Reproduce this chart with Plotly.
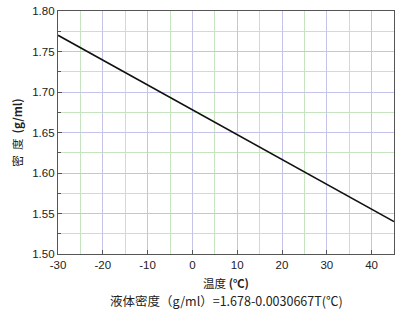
import plotly.graph_objects as go

temperature = [-30, 45]
density = [1.770, 1.540]
x_ticks = [-30, -20, -10, 0, 10, 20, 30, 40]
y_ticks = [1.50, 1.55, 1.60, 1.65, 1.70, 1.75, 1.80]

fig = go.Figure()
fig.add_trace(go.Scatter(x=temperature, y=density, mode="lines",
                         line=dict(color="#111111", width=1.6), showlegend=False))

font = dict(family="Liberation Sans", size=11.5, color="#222222")
fig.update_layout(
    width=400, height=310,
    margin=dict(l=58, r=5, t=9, b=56),
    paper_bgcolor="white", plot_bgcolor="white",
    font=font,
    xaxis=dict(range=[-30, 45], tickvals=x_ticks, ticktext=[str(v) for v in x_ticks],
               showgrid=True, gridcolor="#c4c4ea", gridwidth=1.2,
               minor=dict(dtick=5, tick0=-25, showgrid=True, gridcolor="#c6e4bf", gridwidth=1.2),
               showline=True, linecolor="#555555", mirror=True, linewidth=1.2,
               ticks="inside", ticklen=4, tickcolor="#555555", zeroline=False,
               title=dict(text="温度 <b>(℃)</b>", font=dict(family="Noto Sans CJK SC", size=11.5), standoff=10)),
    yaxis=dict(range=[1.50, 1.80], tickvals=y_ticks, ticktext=[f"{v:.2f}" for v in y_ticks],
               showgrid=True, gridcolor="#c4c4ea", gridwidth=1.2,
               minor=dict(dtick=0.025, tick0=1.525, showgrid=True, gridcolor="#c6e4bf", gridwidth=1.2,
                          ticks="inside", ticklen=3, tickcolor="#555555"),
               showline=True, linecolor="#555555", mirror=True, linewidth=1.2,
               ticks="inside", ticklen=4, tickcolor="#555555", zeroline=False,
               title=dict(text="密  度  <b>(g/ml)</b>", font=dict(family="Noto Sans CJK SC", size=11.5), standoff=7)),
)
fig.add_annotation(text="液体密度（g/ml）=1.678-0.0030667T(℃)", xref="paper", yref="paper",
                   x=0.5, y=-0.145, xanchor="center", yanchor="top", showarrow=False,
                   font=dict(family="Noto Sans CJK SC", size=12.5, color="#222222"))
fig.write_html("out.html")
